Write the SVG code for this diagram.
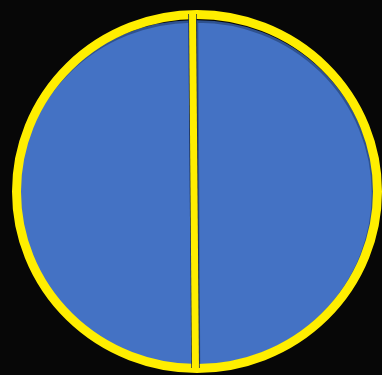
<svg xmlns="http://www.w3.org/2000/svg" width="382" height="375" viewBox="0 0 382 375">
  <style>
    .half { fill: #4472c4; stroke: #2f528f; stroke-width: 2.5; }
    .ring { fill: none; stroke: #ffee00; stroke-width: 9; }
  </style>
  <rect x="0" y="0" width="382" height="375" fill="#070707"/>
  <g id="left-half">
    <path class="half" d="M192 21.5 A176 172 0 0 0 195.5 365.5 Z"/>
  </g>
  <g id="right-half">
    <path class="half" d="M197 21.5 A175 172 0 0 1 199 365.5 Z"/>
  </g>
  <g id="outline">
    <ellipse class="ring" cx="197" cy="191.5" rx="180.5" ry="177"/>
    <line x1="192.5" y1="14" x2="195.5" y2="368" stroke="#1a2a4a" stroke-width="8.5"/>
    <line x1="192.5" y1="12" x2="195.5" y2="371" stroke="#ffee00" stroke-width="7"/>
  </g>
</svg>
